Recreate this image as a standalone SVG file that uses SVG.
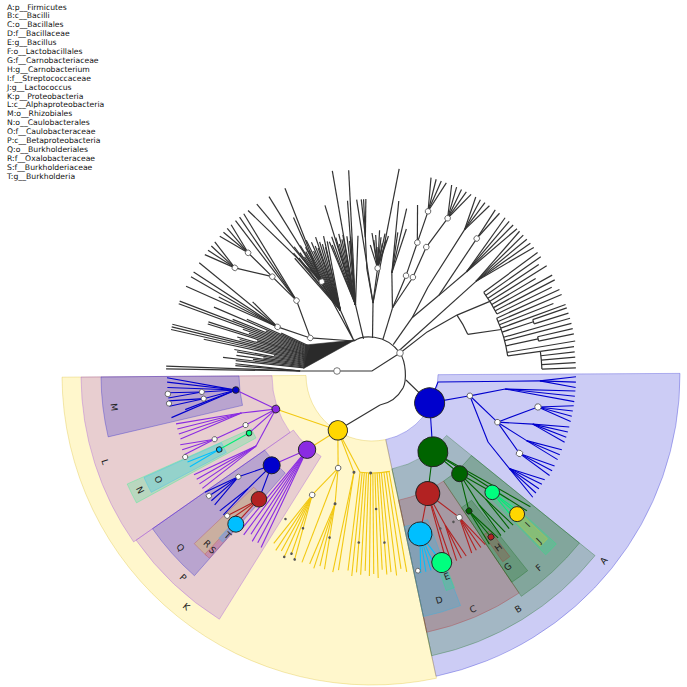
<svg xmlns="http://www.w3.org/2000/svg" width="687" height="687" viewBox="0 0 687 687">
<style>
.hl path{fill-opacity:.2;stroke-opacity:.35;stroke-width:.8}
.hl .solid{fill-opacity:.85;stroke-opacity:.3}
#connectors path,#connectors circle{fill:none}
.k{stroke:#333;stroke-width:1.2}
.bl{stroke:#0000cd;stroke-width:1.1}
.dg{stroke:#006400;stroke-width:1.1}
.rd{stroke:#b22222;stroke-width:1.1}
.cy{stroke:#00bfff;stroke-width:1.1}
.sg{stroke:#00ee76;stroke-width:1.1}
.gd{stroke:#f2c811;stroke-width:1.1}
.pu{stroke:#8a2be2;stroke-width:1.1}
.w{fill:#fff;stroke:#555;stroke-width:.8}
.dt{fill:#555}
.nd{stroke:#222;stroke-width:.9}
.lb{font-family:"DejaVu Sans",sans-serif;font-size:9px;fill:#222;text-anchor:middle;dominant-baseline:central}
.lg{font-family:"DejaVu Sans",sans-serif;font-size:7.7px;fill:#111}
</style>
<rect width="687" height="687" fill="#fff"/>
<g transform="translate(372 375)">
<g id="highlights" class="hl">
<path id="hl-A" fill="#0000cd" stroke="#0000cd" d="M66 -0.35L308 -1.61A308 308 0 0 1 64.04 301.27L13.72 64.56A66 66 0 0 0 66 -0.35Z"/>
<path id="hl-K" fill="#ffd700" stroke="#d4b000" d="M13.72 64.56L64.45 303.23A310 310 0 0 1 -309.99 2.16L-66 0.46A66 66 0 0 0 13.72 64.56Z"/>
<path id="hl-B" fill="#006400" stroke="#006400" d="M74.61 60.41L223.04 180.61A287 287 0 0 1 59.67 280.73L19.96 93.9A96 96 0 0 0 74.61 60.41Z"/>
<path id="hl-C" fill="#b22222" stroke="#b22222" d="M71.58 106.12L147.07 218.04A263 263 0 0 1 54.68 257.25L26.61 125.2A128 128 0 0 0 71.58 106.12Z"/>
<path id="hl-D" fill="#00bfff" stroke="#00bfff" d="M55.55 144.7L88.52 230.59A247 247 0 0 1 51.35 241.6L32.23 151.61A155 155 0 0 0 55.55 144.7Z"/>
<path id="hl-E" fill="#00ff7f" stroke="#00ff7f" d="M70.52 181.8L82.45 212.57A228 228 0 0 1 74.23 215.58L63.49 184.38A195 195 0 0 0 70.52 181.8Z"/>
<path id="hl-F" fill="#006400" stroke="#006400" d="M99.48 80.55L207.5 168.03A267 267 0 0 1 149.3 221.35L71.58 106.12A128 128 0 0 0 99.48 80.55Z"/>
<path id="hl-G" fill="#006400" stroke="#006400" d="M99.6 125.22L155.63 195.65A250 250 0 0 1 139.8 207.26L89.47 132.65A160 160 0 0 0 99.6 125.22Z"/>
<path id="hl-H" fill="#b22222" stroke="#b22222" d="M117.9 155.33L137.85 181.61A228 228 0 0 1 130.78 186.77L111.85 159.73A195 195 0 0 0 117.9 155.33Z"/>
<path id="hl-I" fill="#00ff7f" stroke="#00ff7f" d="M119.44 109.45L184.32 168.9A250 250 0 0 1 173.67 179.84L112.53 116.53A162 162 0 0 0 119.44 109.45Z"/>
<path id="hl-J" fill="#ffd700" stroke="#ffd700" d="M142.61 132.99L175.52 163.68A240 240 0 0 1 168.22 171.18L136.68 139.08A195 195 0 0 0 142.61 132.99Z"/>
<path id="hl-L" fill="#8a2be2" stroke="#8a2be2" d="M-81.92 57.36L-238.37 166.91A291 291 0 0 1 -290.99 2.03L-100 0.7A100 100 0 0 0 -81.92 57.36Z"/>
<path id="hl-P" fill="#8a2be2" stroke="#8a2be2" d="M-50.87 81.41L-152.62 244.24A288 288 0 0 1 -235.92 165.19L-78.64 55.06A96 96 0 0 0 -50.87 81.41Z"/>
<path id="hl-M" fill="#0000cd" stroke="#0000cd" d="M-129.49 30.37L-263.84 61.88A271 271 0 0 1 -270.99 1.89L-133 0.93A133 133 0 0 0 -129.49 30.37Z"/>
<path id="hl-N" fill="#00ff7f" stroke="#00ff7f" d="M-116 62.99L-235.52 127.88A268 268 0 0 1 -244.83 109.01L-120.59 53.69A132 132 0 0 0 -116 62.99Z"/>
<path id="hl-O" fill="#00bfff" stroke="#00bfff" d="M-145.69 77.46L-220.74 117.37A250 250 0 0 1 -228.03 102.48L-150.5 67.64A165 165 0 0 0 -145.69 77.46Z"/>
<path id="hl-Q" fill="#0000cd" stroke="#0000cd" d="M-86.8 98.11L-177.58 200.72A268 268 0 0 1 -219.53 153.72L-107.31 75.14A131 131 0 0 0 -86.8 98.11Z"/>
<path id="hl-R" class="solid" fill="#cdb298" stroke="#b22222" d="M-110.12 120.18L-165.52 180.63A245 245 0 0 1 -177.72 168.65L-118.24 112.2A163 163 0 0 0 -110.12 120.18Z"/>
<path id="hl-S" class="solid" fill="#c48cab" stroke="#b22222" d="M-131.46 148.06L-162.66 183.21A245 245 0 0 1 -167.09 179.18L-135.04 144.81A198 198 0 0 0 -131.46 148.06Z"/>
<path id="hl-T" class="solid" fill="#8ea0cc" stroke="#00bfff" d="M-131.97 147.61L-149.3 166.99A224 224 0 0 1 -153.34 163.29L-135.54 144.34A198 198 0 0 0 -131.97 147.61Z"/>
</g>
<g id="connectors">
<g class="k">
<path d="M-72 -4H0L28 -22"/>
<path d="M-18 -34C-10 -40 13 -42 28 -22C34 -13 35 5 31 13C26 22 18 28 8 30"/>
<polygon points="-17,-35 -68.4,-6.6 -66.5,-30" fill="#2a2a2a" stroke="#2a2a2a" stroke-width=".6"/>
<path d="M-18 -34L-61.7 -37.1M-18 -34L-50.3 -93.3M-18 -34L-31.6 -64.7M28 -22L55.2 -43.1"/>
<path transform="rotate(181.7)" d="M72 1.9L206 0"/>
<path transform="rotate(182.45)" d="M72 0.9L206 0"/>
<path transform="rotate(183.95)" d="M72 -0.9L137 0"/>
<path transform="rotate(184.7)" d="M72 -1.9L137 0"/>
<path transform="rotate(186)" d="M68 0H137"/>
<path transform="rotate(186.75)" d="M68 0H150"/>
<path transform="rotate(187.5)" d="M68 0H120"/>
<path transform="rotate(188.25)" d="M68 0H137"/>
<path transform="rotate(189)" d="M68 0H110"/>
<path transform="rotate(189.75)" d="M68 0H137"/>
<path transform="rotate(190.5)" d="M68 0H140"/>
<path transform="rotate(191.25)" d="M68 0H100"/>
<path transform="rotate(192)" d="M68 0H172"/>
<path transform="rotate(192.75)" d="M68 0H206"/>
<path transform="rotate(193.5)" d="M68 0H206"/>
<path transform="rotate(194.25)" d="M68 0H206"/>
<path transform="rotate(195)" d="M68 0H137"/>
<path transform="rotate(195.75)" d="M68 0H140"/>
<path transform="rotate(196.5)" d="M68 0H120"/>
<path transform="rotate(197.25)" d="M68 0H172"/>
<path transform="rotate(198)" d="M68 0H172"/>
<path transform="rotate(198.75)" d="M68 0H130"/>
<path transform="rotate(199.5)" d="M68 0H137"/>
<path transform="rotate(200.25)" d="M68 0H206"/>
<path transform="rotate(201)" d="M68 0H206"/>
<path transform="rotate(201.75)" d="M68 0H150"/>
<path transform="rotate(202.5)" d="M68 0H115"/>
<path transform="rotate(203.25)" d="M68 0H172"/>
<path transform="rotate(204)" d="M68 0H137"/>
<path transform="rotate(204.75)" d="M68 0H100"/>
<path transform="rotate(207)" d="M71.8 5L106 0"/>
<path transform="rotate(224.6)" d="M70 -16.9L106 0M106 0H174"/>
<path transform="rotate(205.5)" d="M106 2.8L206 0"/>
<path transform="rotate(207)" d="M106 0H172"/>
<path transform="rotate(208.5)" d="M106 -2.8L206 0"/>
<path transform="rotate(210)" d="M105.9 -5.6L206 0"/>
<path transform="rotate(211.5)" d="M105.7 -8.3L140 0"/>
<path transform="rotate(213)" d="M105.4 -11.1L206 0"/>
<path transform="rotate(218)" d="M139.1 16.1L174 0"/>
<path transform="rotate(215.75)" d="M173.9 6.8L206 0"/>
<path transform="rotate(217.25)" d="M174 2.3L206 0"/>
<path transform="rotate(218.75)" d="M174 -2.3L206 0"/>
<path transform="rotate(220.25)" d="M173.9 -6.8L206 0"/>
<path transform="rotate(222.35)" d="M173.9 6.8L206 0"/>
<path transform="rotate(223.85)" d="M174 2.3L206 0"/>
<path transform="rotate(225.35)" d="M174 -2.3L206 0"/>
<path transform="rotate(226.85)" d="M173.9 -6.8L206 0"/>
<path transform="rotate(228.5)" d="M105.8 -7.2L206 0"/>
<path transform="rotate(230)" d="M105.5 -10L206 0"/>
<path transform="rotate(231.5)" d="M105.2 -12.7L206 0"/>
<path transform="rotate(236.5)" d="M71.4 9.4L140 0"/>
<path transform="rotate(237.25)" d="M71.5 8.5L145 0"/>
<path transform="rotate(238)" d="M71.6 7.5L138 0"/>
<path transform="rotate(238.75)" d="M71.7 6.6L150 0"/>
<path transform="rotate(239.5)" d="M71.8 5.7L142 0"/>
<path transform="rotate(240.25)" d="M71.9 4.7L136 0"/>
<path transform="rotate(241)" d="M71.9 3.8L148 0"/>
<path transform="rotate(241.75)" d="M71.9 2.8L140 0"/>
<path transform="rotate(242.5)" d="M72 1.9L144 0"/>
<path transform="rotate(243.25)" d="M72 0.9L139 0"/>
<path transform="rotate(244)" d="M72 0H150"/>
<path transform="rotate(244.75)" d="M72 -0.9L137 0"/>
<path transform="rotate(245.5)" d="M72 -1.9L146 0"/>
<path transform="rotate(246.25)" d="M71.9 -2.8L141 0"/>
<path transform="rotate(247)" d="M71.9 -3.8L138 0"/>
<path transform="rotate(247.75)" d="M71.9 -4.7L149 0"/>
<path transform="rotate(248.5)" d="M71.8 -5.7L143 0"/>
<path transform="rotate(249.25)" d="M71.7 -6.6L140 0"/>
<path transform="rotate(250)" d="M71.6 -7.5L136 0"/>
<path transform="rotate(250.75)" d="M71.5 -8.5L147 0"/>
<path transform="rotate(251.5)" d="M71.4 -9.4L141 0"/>
<path transform="rotate(233)" d="M104.8 16L206 0"/>
<path transform="rotate(236)" d="M105.5 10.5L206 0"/>
<path transform="rotate(240)" d="M106 3.1L206 0"/>
<path transform="rotate(243.5)" d="M106 -3.3L176 0"/>
<path transform="rotate(245)" d="M105.8 -6.1L206 0"/>
<path transform="rotate(256.75)" d="M37 0H72"/>
<path transform="rotate(252.25)" d="M71.8 5.7L140 0"/>
<path transform="rotate(253)" d="M71.9 4.7L136 0"/>
<path transform="rotate(253.75)" d="M71.9 3.8L144 0"/>
<path transform="rotate(254.5)" d="M71.9 2.8L176 0"/>
<path transform="rotate(255.25)" d="M72 1.9L142 0"/>
<path transform="rotate(256)" d="M72 0.9L135 0"/>
<path transform="rotate(256.75)" d="M72 0H145"/>
<path transform="rotate(257.5)" d="M72 -0.9L139 0"/>
<path transform="rotate(258.25)" d="M72 -1.9L143 0"/>
<path transform="rotate(259)" d="M71.9 -2.8L208 0"/>
<path transform="rotate(259.75)" d="M71.9 -3.8L141 0"/>
<path transform="rotate(260.5)" d="M71.9 -4.7L136 0"/>
<path transform="rotate(261.25)" d="M71.8 -5.7L140 0"/>
<path transform="rotate(262)" d="M71.7 -6.6L176 0"/>
<path transform="rotate(263.5)" d="M71.5 -8.5L206 0"/>
<path transform="rotate(264.25)" d="M71.4 -9.4L140 0"/>
<path transform="rotate(265)" d="M71.6 7.3L176 0"/>
<path transform="rotate(270.8)" d="M37 0H72"/>
<path transform="rotate(267.25)" d="M71.9 4.5L106 0M106 0H176"/>
<path transform="rotate(266.5)" d="M138 1.8L176 0"/>
<path transform="rotate(268)" d="M138 -1.8L176 0"/>
<path transform="rotate(273)" d="M72 -2.8L107 0"/>
<path transform="rotate(269.25)" d="M106.8 7L130 0"/>
<path transform="rotate(270)" d="M106.9 5.6L142 0"/>
<path transform="rotate(270.75)" d="M106.9 4.2L135 0"/>
<path transform="rotate(271.5)" d="M107 2.8L140 0"/>
<path transform="rotate(272.25)" d="M107 1.4L128 0"/>
<path transform="rotate(273)" d="M107 0H145"/>
<path transform="rotate(273.75)" d="M107 -1.4L138 0"/>
<path transform="rotate(274.5)" d="M107 -2.8L132 0"/>
<path transform="rotate(275.25)" d="M106.9 -4.2L142 0"/>
<path transform="rotate(276)" d="M106.9 -5.6L136 0"/>
<path transform="rotate(276.75)" d="M106.8 -7L140 0"/>
<path transform="rotate(277.5)" d="M71.5 -8.4L208 0"/>
<path transform="rotate(287)" d="M37 0H70"/>
<path transform="rotate(281)" d="M69.6 7.3L104 0"/>
<path transform="rotate(278.75)" d="M103.9 4.1L176 0"/>
<path transform="rotate(280.25)" d="M104 1.4L145 0"/>
<path transform="rotate(281.75)" d="M104 -1.4L170 0"/>
<path transform="rotate(283.25)" d="M103.9 -4.1L150 0"/>
<path transform="rotate(288.9)" d="M70 -2.3L105 0M105 0H173"/>
<path transform="rotate(286.65)" d="M172.9 6.8L206 0"/>
<path transform="rotate(288.15)" d="M173 2.3L206 0"/>
<path transform="rotate(289.65)" d="M173 -2.3L206 0"/>
<path transform="rotate(291.15)" d="M172.9 -6.8L206 0"/>
<path transform="rotate(285)" d="M139.7 9.5L176 0"/>
<path transform="rotate(292.7)" d="M69.7 -7L106 0"/>
<path transform="rotate(293)" d="M106 -0.6L139 0"/>
<path transform="rotate(295.75)" d="M138.8 -6.7L174 0M174 0H206"/>
<path transform="rotate(292.75)" d="M173.8 9.1L206 0"/>
<path transform="rotate(294.25)" d="M173.9 4.6L206 0"/>
<path transform="rotate(297.25)" d="M173.9 -4.6L206 0"/>
<path transform="rotate(298.75)" d="M173.8 -9.1L206 0"/>
<path transform="rotate(305)" d="M37 0H70"/>
<path transform="rotate(302.5)" d="M69.9 3.1L104 0M104 0H172"/>
<path transform="rotate(300.25)" d="M171.9 6.8L206 0"/>
<path transform="rotate(301.75)" d="M172 2.3L206 0"/>
<path transform="rotate(303.25)" d="M172 -2.3L206 0"/>
<path transform="rotate(304.75)" d="M171.9 -6.8L206 0"/>
<path transform="rotate(310)" d="M69.7 -6.1L104 0"/>
<path transform="rotate(307.5)" d="M103.9 4.5L172 0"/>
<path transform="rotate(306.75)" d="M172 2.3L206 0"/>
<path transform="rotate(308.25)" d="M172 -2.3L206 0"/>
<path transform="rotate(312.5)" d="M103.9 -4.5L140 0"/>
<path transform="rotate(310.25)" d="M139.9 5.5L206 0"/>
<path transform="rotate(311.75)" d="M140 1.8L206 0"/>
<path transform="rotate(313.25)" d="M140 -1.8L206 0"/>
<path transform="rotate(314.75)" d="M139.9 -5.5L206 0"/>
<path transform="rotate(318)" d="M37 0H140"/>
<path transform="rotate(315.75)" d="M139.9 5.5L206 0"/>
<path transform="rotate(317.25)" d="M140 1.8L206 0"/>
<path transform="rotate(318.75)" d="M140 -1.8L206 0"/>
<path transform="rotate(320.25)" d="M139.9 -5.5L206 0"/>
<path transform="rotate(321.75)" d="M139.7 -9.2L206 0"/>
<path transform="rotate(324.8)" d="M69.9 -3.4L104 0"/>
<circle r="104" stroke-dasharray="22.14 9999" transform="rotate(324.8)"/>
<path transform="rotate(328)" d="M103.8 -5.8L139 0"/>
<path transform="rotate(340.6)" d="M103.8 -6.5L137 0"/>
<circle r="139" stroke-dasharray="25.47 9999" transform="rotate(323.5)"/>
<path transform="rotate(323.5)" d="M139 0H206"/>
<path transform="rotate(325)" d="M139 0H206"/>
<path transform="rotate(326.5)" d="M139 0H200"/>
<path transform="rotate(328)" d="M139 0H206"/>
<path transform="rotate(329.5)" d="M139 0H190"/>
<path transform="rotate(331)" d="M139 0H206"/>
<path transform="rotate(332.5)" d="M139 0H206"/>
<path transform="rotate(334)" d="M139 0H200"/>
<circle r="137" stroke-dasharray="39.45 9999" transform="rotate(335.5)"/>
<path transform="rotate(335.5)" d="M137 0H206"/>
<path transform="rotate(337)" d="M137 0H206"/>
<path transform="rotate(338.5)" d="M137 0H195"/>
<path transform="rotate(340)" d="M137 0H206"/>
<path transform="rotate(344)" d="M137 0H206"/>
<path transform="rotate(345.5)" d="M137 0H206"/>
<path transform="rotate(350.5)" d="M137 0H206"/>
<path transform="rotate(341.75)" d="M137 0H170"/>
<circle r="170" stroke-dasharray="4.45 9999" transform="rotate(341)"/>
<path transform="rotate(341)" d="M170 0H206"/>
<path transform="rotate(342.5)" d="M170 0H206"/>
<path transform="rotate(347.75)" d="M137 0H170"/>
<circle r="170" stroke-dasharray="4.45 9999" transform="rotate(347)"/>
<path transform="rotate(347)" d="M170 0H206"/>
<path transform="rotate(348.5)" d="M170 0H206"/>
<path transform="rotate(352)" d="M137 0H170"/>
<circle r="170" stroke-dasharray="17.8 9999" transform="rotate(352)"/>
<path transform="rotate(352)" d="M170 0H204"/>
<path transform="rotate(353.5)" d="M170 0H204"/>
<path transform="rotate(355)" d="M170 0H204"/>
<path transform="rotate(356.5)" d="M170 0H204"/>
<path transform="rotate(358)" d="M170 0H204"/>
<path d="M34 5L57.6 27.9M8 30L-34.2 55.3"/>
</g>
<g class="bl">
<path d="M57.6 27.9L66 7L167.9 5.9"/>
<path transform="rotate(0.5)" d="M167.9 4.4L204 0"/>
<path transform="rotate(2)" d="M168 0H204"/>
<path transform="rotate(3.5)" d="M167.9 -4.4L204 0"/>
<path transform="rotate(12)" d="M62.2 15.3L100 0"/>
<path transform="rotate(6)" d="M99.5 10.5L134 0M134 0H204"/>
<path transform="rotate(4.5)" d="M133.9 3.5L204 0"/>
<path transform="rotate(7.5)" d="M133.9 -3.5L204 0"/>
<path transform="rotate(20.6)" d="M98.9 -15L134 0"/>
<path transform="rotate(10.9)" d="M132.1 22.6L169 0"/>
<path transform="rotate(8.65)" d="M168.9 6.6L204 0"/>
<path transform="rotate(10.15)" d="M169 2.2L204 0"/>
<path transform="rotate(11.65)" d="M169 -2.2L204 0"/>
<path transform="rotate(13.15)" d="M168.9 -6.6L204 0"/>
<path transform="rotate(17)" d="M133.7 8.4L168 0"/>
<path transform="rotate(14.75)" d="M167.9 6.6L204 0"/>
<path transform="rotate(16.25)" d="M168 2.2L204 0"/>
<path transform="rotate(17.75)" d="M168 -2.2L204 0"/>
<path transform="rotate(19.25)" d="M167.9 -6.6L204 0"/>
<path transform="rotate(23)" d="M133.9 -5.6L168 0M168 0H204"/>
<path transform="rotate(21.5)" d="M167.9 4.4L204 0"/>
<path transform="rotate(24.5)" d="M167.9 -4.4L204 0"/>
<path transform="rotate(28)" d="M132.9 -17.3L167 0M167 0H204"/>
<path transform="rotate(26.5)" d="M166.9 4.4L204 0"/>
<path transform="rotate(29.5)" d="M166.9 -4.4L204 0"/>
<path transform="rotate(30)" d="M95.1 -30.9L134 0"/>
<path transform="rotate(34.25)" d="M133.6 -9.9L166 0M166 0H202"/>
<path transform="rotate(31.25)" d="M165.8 8.7L202 0"/>
<path transform="rotate(32.75)" d="M165.9 4.3L202 0"/>
<path transform="rotate(35.75)" d="M165.9 -4.3L202 0"/>
<path transform="rotate(37.25)" d="M165.8 -8.7L202 0"/>
<path transform="rotate(51.6)" d="M57.6 -27.9L98 0"/>
<path transform="rotate(132.3)" d="M134.3 13.4L168 0"/>
<path transform="rotate(142.7)" d="M134.5 -11.1L168 0"/>
<path transform="rotate(140.45)" d="M167.9 6.6L204 0"/>
<path transform="rotate(141.95)" d="M168 2.2L204 0"/>
<path transform="rotate(143.45)" d="M168 -2.2L204 0"/>
<path transform="rotate(144.95)" d="M167.9 -6.6L204 0"/>
<path transform="rotate(137.5)" d="M135 1.2L168 0"/>
<path transform="rotate(136.75)" d="M168 2.2L204 0"/>
<path transform="rotate(138.25)" d="M168 -2.2L204 0"/>
<path transform="rotate(174.3)" d="M137 -1.4L171 0"/>
<path transform="rotate(173.55)" d="M171 2.2L205 0"/>
<path transform="rotate(175.05)" d="M171 -2.2L205 0"/>
<path transform="rotate(172)" d="M136.9 4.1L170 0"/>
<path transform="rotate(171.25)" d="M170 2.2L205 0"/>
<path transform="rotate(172.75)" d="M170 -2.2L205 0"/>
<path transform="rotate(176.5)" d="M136.8 -6.7L205 0"/>
<path transform="rotate(178)" d="M136.6 -10.3L205 0"/>
<path transform="rotate(179.25)" d="M136.4 -13.3L205 0"/>
<path transform="rotate(168)" d="M136.3 13.6L205 0"/>
<path transform="rotate(169.5)" d="M136.6 10L190 0"/>
</g>
<g class="dg">
<path transform="rotate(64.8)" d="M95.4 -22.4L131 0"/>
<path transform="rotate(48.4)" d="M97.8 5.5L132 0"/>
<path transform="rotate(39.75)" d="M95.9 20.1L206 0"/>
<path transform="rotate(41.25)" d="M96.4 17.6L206 0"/>
<path transform="rotate(54.5)" d="M131.3 -14L167 0"/>
<path transform="rotate(44.3)" d="M131.7 9.4L168 0"/>
<path transform="rotate(47.5)" d="M132 2.1L168 0"/>
<path transform="rotate(46.75)" d="M168 2.2L206 0"/>
<path transform="rotate(48.25)" d="M168 -2.2L206 0"/>
<path transform="rotate(50.5)" d="M131.9 -4.8L168 0"/>
<path transform="rotate(49.75)" d="M168 2.2L206 0"/>
<path transform="rotate(51.25)" d="M168 -2.2L206 0"/>
<path transform="rotate(53.7)" d="M167 2.3L201 0"/>
<path transform="rotate(55.25)" d="M167 -2.2L206 0"/>
<path transform="rotate(52.25)" d="M166.9 6.6L206 0"/>
</g>
<g class="sg">
<path transform="rotate(43.8)" d="M168 1.5L201 0"/>
<path transform="rotate(45.5)" d="M168 -3.5L206 0"/>
<path transform="rotate(42.75)" d="M167.9 4.5L206 0"/>
<path transform="rotate(154)" d="M136 1.7L170 0"/>
</g>
<g class="rd">
<path transform="rotate(73.2)" d="M129.6 -19.1L166 0"/>
<path transform="rotate(58.5)" d="M130.2 14.4L167 0"/>
<path transform="rotate(56.25)" d="M166.9 6.6L204 0"/>
<path transform="rotate(57.75)" d="M167 2.2L204 0"/>
<path transform="rotate(59.25)" d="M167 -2.2L204 0"/>
<path transform="rotate(60.75)" d="M166.9 -6.6L204 0"/>
<path transform="rotate(64)" d="M131 1.8L167 0M167 0H204"/>
<path transform="rotate(62.5)" d="M166.9 4.4L204 0"/>
<path transform="rotate(65.5)" d="M166.9 -4.4L204 0"/>
<path transform="rotate(67)" d="M130.9 -5L204 0"/>
<path transform="rotate(68.25)" d="M130.8 -7.9L200 0"/>
<path transform="rotate(132.4)" d="M168 0H202"/>
<path transform="rotate(134.5)" d="M167.9 -6.5L204 0"/>
<path transform="rotate(135.8)" d="M167.7 -10.3L202 0"/>
</g>
<g class="cy">
<path transform="rotate(69.6)" d="M165.7 10.4L200 0"/>
<path transform="rotate(71.7)" d="M165.9 4.3L204 0"/>
<path transform="rotate(73.2)" d="M166 0H204"/>
<path transform="rotate(74.7)" d="M165.9 -4.3L204 0"/>
<path transform="rotate(76.2)" d="M165.8 -8.7L204 0"/>
<path transform="rotate(153.25)" d="M170 2.2L204 0"/>
<path transform="rotate(154.75)" d="M170 -2.2L204 0"/>
</g>
<g class="gd">
<path transform="rotate(131)" d="M64.1 -10.5L99 0"/>
<path transform="rotate(160.5)" d="M50.7 -40.7L102 0"/>
<path transform="rotate(110)" d="M63.7 13.2L99 0"/>
<path transform="rotate(97)" d="M59 27.2L98 0"/>
<circle r="98" stroke-dasharray="29.93 9999" transform="rotate(79.5)"/>
<path transform="rotate(80)" d="M98 0H200"/>
<path transform="rotate(81.5)" d="M98 0H196"/>
<path transform="rotate(83)" d="M98 0H202"/>
<path transform="rotate(84.5)" d="M98 0H198"/>
<path transform="rotate(85.75)" d="M98 0H200"/>
<path transform="rotate(87)" d="M98 0H195"/>
<path transform="rotate(88.25)" d="M98 0H203"/>
<path transform="rotate(89.5)" d="M98 0H199"/>
<path transform="rotate(90.75)" d="M98 0H201"/>
<path transform="rotate(92)" d="M98 0H196"/>
<path transform="rotate(93.25)" d="M98 0H200"/>
<path transform="rotate(94.5)" d="M98 0H198"/>
<path transform="rotate(95.75)" d="M98 0H202"/>
<path transform="rotate(97)" d="M98 0H197"/>
<path transform="rotate(100.5)" d="M60.6 23.5L99 0"/>
<path transform="rotate(99.75)" d="M99 1.3L198 0"/>
<path transform="rotate(101.25)" d="M99 -1.3L201 0"/>
<path transform="rotate(116.5)" d="M98.4 -11.2L134 0"/>
<path transform="rotate(112.75)" d="M133.7 8.8L200 0"/>
<path transform="rotate(114.25)" d="M133.9 5.3L196 0"/>
<path transform="rotate(115.75)" d="M134 1.8L202 0"/>
<path transform="rotate(117.25)" d="M134 -1.8L198 0"/>
<path transform="rotate(118.75)" d="M133.9 -5.3L200 0"/>
<path transform="rotate(120.25)" d="M133.7 -8.8L195 0"/>
<path transform="rotate(106)" d="M98.8 6.9L134 0"/>
<path transform="rotate(103.75)" d="M133.9 5.3L200 0"/>
<path transform="rotate(105.25)" d="M134 1.8L198 0"/>
<path transform="rotate(106.75)" d="M134 -1.8L202 0"/>
<path transform="rotate(108.25)" d="M133.9 -5.3L199 0"/>
<path transform="rotate(110.5)" d="M99 -0.9L200 0"/>
</g>
<g class="pu">
<path transform="rotate(138)" d="M98.3 -12.1L135 0"/>
<path transform="rotate(122.75)" d="M98 14.2L205 0"/>
<path transform="rotate(124.25)" d="M98.3 11.6L203 0"/>
<path transform="rotate(125.75)" d="M98.6 9.1L205 0"/>
<path transform="rotate(127.25)" d="M98.8 6.5L200 0"/>
<path transform="rotate(128.75)" d="M98.9 3.9L205 0"/>
<path transform="rotate(130.25)" d="M99 1.3L203 0"/>
<path transform="rotate(173.7)" d="M99.3 -23.3L137 0"/>
<path transform="rotate(154.7)" d="M101.5 10.3L136 0"/>
<path transform="rotate(163.75)" d="M101.8 -5.8L136 0"/>
<path transform="rotate(161.5)" d="M135.9 5.3L202 0"/>
<path transform="rotate(163)" d="M136 1.8L202 0"/>
<path transform="rotate(164.5)" d="M136 -1.8L202 0"/>
<path transform="rotate(166)" d="M135.9 -5.3L202 0"/>
<path transform="rotate(158.4)" d="M101.9 3.7L136 0"/>
<path transform="rotate(157.8)" d="M136 1.4L170 0"/>
<path transform="rotate(157)" d="M170 2.4L204 0"/>
<path transform="rotate(158.5)" d="M170 -2.1L204 0"/>
<path transform="rotate(160)" d="M169.9 -6.5L204 0"/>
<path transform="rotate(148.5)" d="M99.8 21.2L136 0"/>
<path transform="rotate(146.25)" d="M135.9 5.3L204 0"/>
<path transform="rotate(147.75)" d="M136 1.8L204 0"/>
<path transform="rotate(149.25)" d="M136 -1.8L204 0"/>
<path transform="rotate(150.75)" d="M135.9 -5.3L204 0"/>
</g>
</g>
<g id="markers">
<circle class="w" cx="-35" cy="-4" r="3.3"/>
<circle class="w" cx="28" cy="-22" r="3.3"/>
<circle class="w" cx="72" r="2.8" transform="rotate(211)"/>
<circle class="w" cx="106" r="2.8" transform="rotate(207)"/>
<circle class="w" cx="106" r="2.8" transform="rotate(224.6)"/>
<circle class="w" cx="140" r="2.8" transform="rotate(224.6)"/>
<circle class="w" cx="174" r="2.8" transform="rotate(218)"/>
<circle class="w" cx="174" r="2.8" transform="rotate(224.6)"/>
<circle class="w" cx="106" r="2.8" transform="rotate(241.7)"/>
<circle class="w" cx="107" r="2.8" transform="rotate(273)"/>
<circle class="w" cx="105" r="2.8" transform="rotate(288.9)"/>
<circle class="w" cx="140" r="2.8" transform="rotate(288.9)"/>
<circle class="w" cx="173" r="2.8" transform="rotate(288.9)"/>
<circle class="w" cx="106" r="2.8" transform="rotate(292.7)"/>
<circle class="w" cx="139" r="2.8" transform="rotate(293)"/>
<circle class="w" cx="174" r="2.8" transform="rotate(295.75)"/>
<circle class="w" cx="172" r="2.8" transform="rotate(307.5)"/>
<circle class="w" cx="100" r="2.8" transform="rotate(12)"/>
<circle class="w" cx="134" r="2.8" transform="rotate(20.6)"/>
<circle class="w" cx="169" r="3.2" transform="rotate(10.9)"/>
<circle class="w" cx="167" r="3.2" transform="rotate(28)"/>
<circle class="w" cx="167" r="3" transform="rotate(58.5)"/>
<circle class="w" cx="99" r="2.8" transform="rotate(110)"/>
<circle class="w" cx="134" r="2.8" transform="rotate(116.5)"/>
<circle class="w" cx="168" r="2.6" transform="rotate(142.7)"/>
<circle class="w" cx="203" r="2.6" transform="rotate(143.45)"/>
<circle class="w" cx="202" r="2.6" transform="rotate(135.8)"/>
<circle class="w" cx="136" r="2.6" transform="rotate(158.4)"/>
<circle class="w" cx="170" r="2.6" transform="rotate(157.8)"/>
<circle class="w" cx="204" r="2.6" transform="rotate(156.3)"/>
<circle class="w" cx="171" r="2.6" transform="rotate(174.3)"/>
<circle class="w" cx="170" r="2.6" transform="rotate(172)"/>
<circle class="w" cx="205" r="2.8" transform="rotate(174.7)"/>
<circle class="w" cx="205" r="2.6" transform="rotate(172)"/>
<circle class="w" cx="201" r="2.4" transform="rotate(76.8)"/>
<circle class="dt" cx="134" r="1.5" transform="rotate(106)"/>
<circle class="dt" cx="99" r="1.5" transform="rotate(100.5)"/>
<circle class="dt" cx="98" r="1.5" transform="rotate(90.75)"/>
<circle class="dt" cx="134" r="1.3" transform="rotate(88.25)"/>
<circle class="dt" cx="168" r="1.3" transform="rotate(85.75)"/>
<circle class="dt" cx="168" r="1.3" transform="rotate(94.5)"/>
<circle class="dt" cx="168" cy="2.6" r="1.3" transform="rotate(103.75)"/>
<circle class="dt" cx="168" cy="4.4" r="1.3" transform="rotate(112.75)"/>
<circle class="dt" cx="200" r="1.3" transform="rotate(112.75)"/>
<circle class="dt" cx="196" r="1.3" transform="rotate(114.25)"/>
<circle class="dt" cx="202" r="1.3" transform="rotate(115.75)"/>
<circle class="dt" cx="168" r="1.3" transform="rotate(121)"/>
<circle class="dt" cx="168" r="1.3" transform="rotate(61)"/>
<circle class="dt" cx="168" r="1.3" transform="rotate(66)"/>
</g>
<g id="node-A"><circle class="nd" cx="64" r="15" fill="#0000cd" transform="rotate(25.8)"/><text class="lb" transform="rotate(38.7) translate(297 0) rotate(-90)">A</text></g>
<g id="node-B"><circle class="nd" cx="98" r="15" fill="#006400" transform="rotate(51.6)"/><text class="lb" transform="rotate(58) translate(276 0) rotate(-90)">B</text></g>
<g id="node-C"><circle class="nd" cx="131" r="12" fill="#b22222" transform="rotate(64.8)"/><text class="lb" transform="rotate(66.7) translate(255 0) rotate(-90)">C</text></g>
<g id="node-D"><circle class="nd" cx="166" r="12" fill="#00bfff" transform="rotate(73.2)"/><text class="lb" transform="rotate(73.4) translate(235 0) rotate(-90)">D</text></g>
<g id="node-E"><circle class="nd" cx="200" r="10" fill="#00ff7f" transform="rotate(69.6)"/><text class="lb" transform="rotate(69.6) translate(215 0) rotate(-90)">E</text></g>
<g id="node-F"><circle class="nd" cx="132" r="8" fill="#006400" transform="rotate(48.4)"/><text class="lb" transform="rotate(49.1) translate(255 0) rotate(-90)">F</text></g>
<g id="node-G"><circle class="nd" cx="167" r="3" fill="#006400" transform="rotate(54.5)"/><text class="lb" transform="rotate(54.7) translate(235 0) rotate(-90)">G</text></g>
<g id="node-H"><circle class="nd" cx="201" r="3" fill="#b22222" transform="rotate(53.7)"/><text class="lb" transform="rotate(53.8) translate(214 0) rotate(-90)">H</text></g>
<g id="node-I"><circle class="nd" cx="168" r="7.3" fill="#00ff7f" transform="rotate(44.3)"/><text class="lb" transform="rotate(43.9) translate(216 0) rotate(-90)">I</text></g>
<g id="node-J"><circle class="nd" cx="201" r="7.5" fill="#ffd700" transform="rotate(43.8)"/><text class="lb" transform="rotate(44.8) translate(235 0) rotate(-90)">J</text></g>
<g id="node-K"><circle class="nd" cx="65" r="9.7" fill="#ffd700" transform="rotate(121.7)"/><text class="lb" transform="rotate(128.7) translate(297 0) rotate(-90)">K</text></g>
<g id="node-L"><circle class="nd" cx="102" r="3.8" fill="#8a2be2" transform="rotate(160.5)"/><text class="lb" transform="rotate(162) translate(281 0) rotate(-90)">L</text></g>
<g id="node-M"><circle class="nd" cx="137" r="3.3" fill="#0000cd" transform="rotate(173.7)"/><text class="lb" transform="rotate(172.9) translate(260 0) rotate(-90)">M</text></g>
<g id="node-N"><circle class="nd" cx="136" r="2.8" fill="#00ff7f" transform="rotate(154.7)"/><text class="lb" transform="rotate(153.6) translate(259 0) rotate(-90)">N</text></g>
<g id="node-O"><circle class="nd" cx="170" r="2.7" fill="#00bfff" transform="rotate(154)"/><text class="lb" transform="rotate(153.9) translate(238 0) rotate(-90)">O</text></g>
<g id="node-P"><circle class="nd" cx="99" r="8.7" fill="#8a2be2" transform="rotate(131)"/><text class="lb" transform="rotate(133) translate(277 0) rotate(-90)">P</text></g>
<g id="node-Q"><circle class="nd" cx="135" r="8.5" fill="#0000cd" transform="rotate(138)"/><text class="lb" transform="rotate(138) translate(258 0) rotate(-90)">Q</text></g>
<g id="node-R"><circle class="nd" cx="168" r="7.8" fill="#b22222" transform="rotate(132.3)"/><text class="lb" transform="rotate(134.3) translate(236 0) rotate(-90)">R</text></g>
<g id="node-S"><text class="lb" transform="rotate(132.3) translate(237 0) rotate(-90)">S</text></g>
<g id="node-T"><circle class="nd" cx="202" r="8" fill="#00bfff" transform="rotate(132.4)"/><text class="lb" transform="rotate(132) translate(216 0) rotate(-90)">T</text></g>
</g>
<g id="legend" class="lg">
<text x="7" y="9.5">A:p__Firmicutes</text>
<text x="7" y="18.4">B:c__Bacilli</text>
<text x="7" y="27.3">C:o__Bacillales</text>
<text x="7" y="36.2">D:f__Bacillaceae</text>
<text x="7" y="45.1">E:g__Bacillus</text>
<text x="7" y="54">F:o__Lactobacillales</text>
<text x="7" y="62.9">G:f__Carnobacteriaceae</text>
<text x="7" y="71.8">H:g__Carnobacterium</text>
<text x="7" y="80.7">I:f__Streptococcaceae</text>
<text x="7" y="89.6">J:g__Lactococcus</text>
<text x="7" y="98.5">K:p__Proteobacteria</text>
<text x="7" y="107.4">L:c__Alphaproteobacteria</text>
<text x="7" y="116.3">M:o__Rhizobiales</text>
<text x="7" y="125.2">N:o__Caulobacterales</text>
<text x="7" y="134.1">O:f__Caulobacteraceae</text>
<text x="7" y="143">P:c__Betaproteobacteria</text>
<text x="7" y="151.9">Q:o__Burkholderiales</text>
<text x="7" y="160.8">R:f__Oxalobacteraceae</text>
<text x="7" y="169.7">S:f__Burkholderiaceae</text>
<text x="7" y="178.6">T:g__Burkholderia</text>
</g>
</svg>
